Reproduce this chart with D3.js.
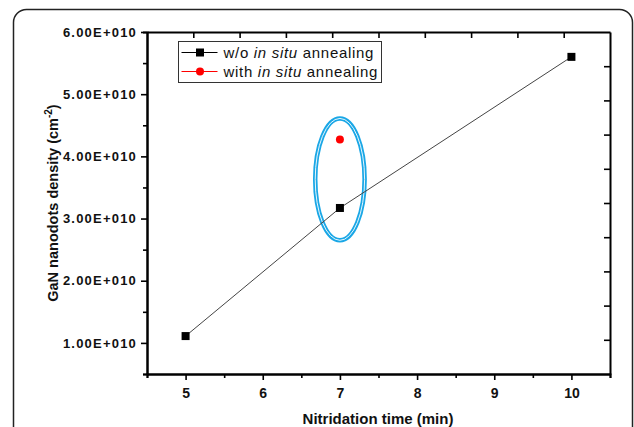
<!DOCTYPE html>
<html>
<head>
<meta charset="utf-8">
<script src="https://cdn.jsdelivr.net/npm/d3@7"></script>
<style>
  body { margin: 0; background: #fff; }
  svg { display: block; font-family: "Liberation Sans", Arial, sans-serif; }
</style>
</head>
<body>
<div id="chart"></div>
<script>
// data
let times = [5, 7, 10];
let densityNoAnneal = [1.11e10, 3.17e10, 5.60e10];
let timesAnneal = [7];
let densityAnneal = [4.27e10];
let xTicks = [5, 6, 7, 8, 9, 10];
let yTicks = [1e10, 2e10, 3e10, 4e10, 5e10, 6e10];
let legendLabels = [["w/o ", "in situ", " annealing"], ["with ", "in situ", " annealing"]];
let legendColors = ["#000", "#ff0000"];

let width = 634, height = 427;
let margin = {top: 32, right: 24, bottom: 53, left: 147};
let plotW = width - margin.left - margin.right;
let plotH = height - margin.top - margin.bottom;

let svg = d3.select("#chart")
    .append("svg")
    .attr("width", width)
    .attr("height", height);

// outer rounded frame
svg.append("rect")
    .attr("x", 13.5).attr("y", 9.5)
    .attr("width", 619).attr("height", 440)
    .attr("rx", 13)
    .attr("fill", "none")
    .attr("stroke", "#222")
    .attr("stroke-width", 1.5);

let g = svg.append("g")
    .attr("transform", `translate(${margin.left}, ${margin.top})`);

let x = d3.scaleLinear().domain([4.5, 10.5]).range([0, plotW]);
let y = d3.scaleLinear().domain([0.5e10, 6e10]).range([plotH, 0]);
// top / right axes in the original have their own evenly spaced ticks
let xTop = d3.scaleLinear().domain([0, 10]).range([0, plotW]);
let yRight = d3.scaleLinear().domain([0, 10]).range([0, plotH]);

function styleAxis(sel) {
  sel.selectAll("path").attr("stroke", "#000").attr("stroke-width", 2);
  sel.selectAll("line").attr("stroke", "#000").attr("stroke-width", 1.6);
  sel.selectAll("text")
      .attr("font-family", "'Liberation Sans', Arial, sans-serif")
      .attr("font-weight", "bold")
      .attr("fill", "#111");
}

// minor ticks
g.append("g")
    .attr("transform", `translate(0, ${plotH})`)
    .call(d3.axisBottom(x).tickValues(d3.range(4.5, 10.6, 1)).tickSize(4).tickFormat(""))
    .call(styleAxis);
g.append("g")
    .call(d3.axisLeft(y).tickValues(d3.range(0.5e10, 6e10, 1e10)).tickSize(4).tickFormat(""))
    .call(styleAxis);

// major axes
g.append("g")
    .attr("transform", `translate(0, ${plotH})`)
    .call(d3.axisBottom(x).tickValues(xTicks).tickSize(6).tickSizeOuter(0).tickPadding(8).tickFormat(d3.format("d")))
    .call(styleAxis)
    .selectAll("text").attr("font-size", 14);
g.append("g")
    .call(d3.axisLeft(y).tickValues(yTicks).tickSize(6).tickSizeOuter(0).tickPadding(4)
      .tickFormat(function(d) { return (d / 1e10).toFixed(2) + "E+010"; }))
    .call(styleAxis)
    .selectAll("text").attr("font-size", 13).attr("letter-spacing", 1.2);
g.append("g")
    .call(d3.axisBottom(xTop).tickValues(d3.range(1, 10)).tickSize(6).tickSizeOuter(0).tickFormat(""))
    .call(styleAxis);
g.append("g")
    .attr("transform", `translate(${plotW}, 0)`)
    .call(d3.axisLeft(yRight).tickValues(d3.range(1, 10)).tickSize(6).tickSizeOuter(0).tickFormat(""))
    .call(styleAxis);

// axis titles
svg.append("text")
    .attr("x", 378).attr("y", 424)
    .attr("text-anchor", "middle")
    .attr("font-weight", "bold")
    .attr("font-size", 15)
    .attr("fill", "#111")
    .text("Nitridation time (min)");

let yTitle = svg.append("text")
    .attr("transform", `translate(58, 203) rotate(-90)`)
    .attr("text-anchor", "middle")
    .attr("font-weight", "bold")
    .attr("font-size", 14.5)
    .attr("fill", "#111");
yTitle.append("tspan").text("GaN nanodots density (cm");
yTitle.append("tspan").attr("font-size", 10).attr("dy", -6).text("-2");
yTitle.append("tspan").attr("dy", 6).text(")");

// highlight ellipse
let ex = x(7), ey = y(3.63e10);
let erx = x(7.32) - x(7), ery = y(2.65e10) - y(3.63e10);
g.append("ellipse")
    .attr("cx", ex).attr("cy", ey).attr("rx", erx).attr("ry", ery)
    .attr("fill", "none").attr("stroke", "#1aa7e6").attr("stroke-width", 4.5);
g.append("ellipse")
    .attr("cx", ex).attr("cy", ey).attr("rx", erx).attr("ry", ery)
    .attr("fill", "none").attr("stroke", "#fff").attr("stroke-width", 0.9);

// series without annealing
let pts = times.map(function(t, i) { return [t, densityNoAnneal[i]]; });
g.append("path")
    .datum(pts)
    .attr("fill", "none")
    .attr("stroke", "#444")
    .attr("stroke-width", 1)
    .attr("d", d3.line().x(function(d) { return x(d[0]); }).y(function(d) { return y(d[1]); }));

g.selectAll("rect.sq")
    .data(pts)
    .enter()
    .append("rect")
    .attr("class", "sq")
    .attr("x", function(d) { return x(d[0]) - 4; })
    .attr("y", function(d) { return y(d[1]) - 4; })
    .attr("width", 8).attr("height", 8)
    .attr("fill", "#000");

// series with annealing
g.selectAll("circle.an")
    .data(timesAnneal.map(function(t, i) { return [t, densityAnneal[i]]; }))
    .enter()
    .append("circle")
    .attr("class", "an")
    .attr("cx", function(d) { return x(d[0]); })
    .attr("cy", function(d) { return y(d[1]); })
    .attr("r", 4)
    .attr("fill", "#ff0000");

// legend
let legend = svg.append("g").attr("transform", "translate(178.5, 41.5)");
legend.append("rect")
    .attr("width", 203).attr("height", 41)
    .attr("fill", "#fff").attr("stroke", "#333").attr("stroke-width", 1);

legendLabels.forEach(function(parts, i) {
  let row = legend.append("g").attr("transform", `translate(0, ${11 + i * 19})`);
  row.append("line")
      .attr("x1", 3).attr("x2", 39).attr("y1", 0).attr("y2", 0)
      .attr("stroke", legendColors[i]).attr("stroke-width", 1);
  if (i === 0) {
    row.append("rect").attr("x", 17.5).attr("y", -4).attr("width", 8).attr("height", 8).attr("fill", "#000");
  } else {
    row.append("circle").attr("cx", 21.5).attr("cy", 0).attr("r", 4).attr("fill", "#ff0000");
  }
  let t = row.append("text")
      .attr("x", 45).attr("y", 5.5)
      .attr("font-size", 15)
      .attr("letter-spacing", 0.7)
      .attr("fill", "#111");
  t.append("tspan").text(parts[0]);
  t.append("tspan").attr("font-style", "italic").text(parts[1]);
  t.append("tspan").text(parts[2]);
});
</script>
</body>
</html>
